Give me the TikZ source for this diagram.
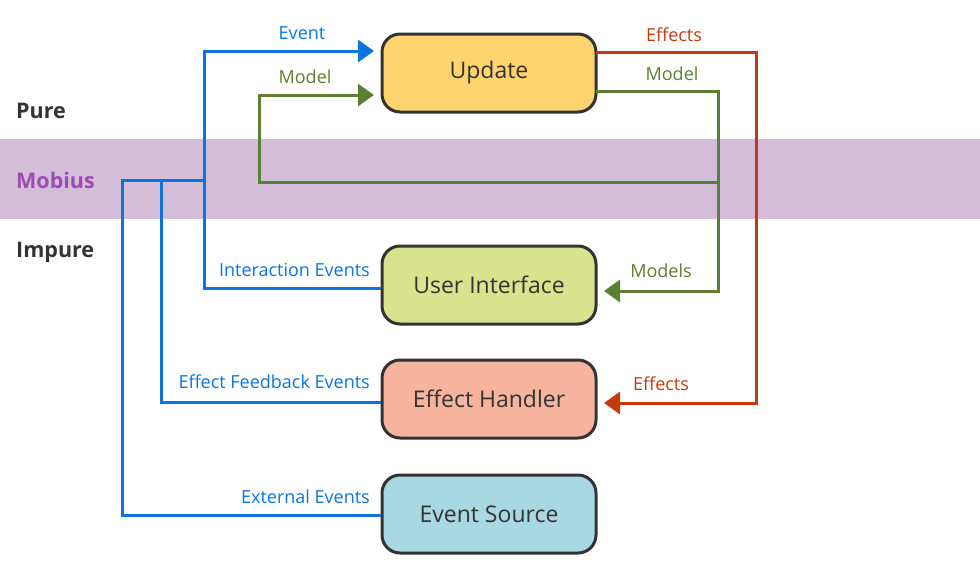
\documentclass[tikz,border=0pt]{standalone}
\usepackage{fontspec}
\setmainfont{Open Sans}
\usetikzlibrary{arrows.meta}
\definecolor{bandc}{HTML}{D3BDD9}
\definecolor{blu}{HTML}{0A74E0}
\definecolor{grn}{HTML}{5A8031}
\definecolor{rd}{HTML}{C43A0E}
\definecolor{mob}{HTML}{9B4DB0}
\definecolor{dark}{HTML}{333333}
\definecolor{updc}{HTML}{FFD36E}
\definecolor{uic}{HTML}{D8E38E}
\definecolor{ehc}{HTML}{F6B39D}
\definecolor{esc}{HTML}{A8D8E2}
\tikzset{
  box/.style={draw=dark,line width=3pt,rounded corners=18pt,minimum width=214pt,minimum height=78pt,inner sep=0pt,font=\fontsize{23}{26}\selectfont\color{dark}},
  conn/.style={line width=3pt},
  arr/.style={conn,-{Triangle[length=16pt,width=22pt]},shorten >=8pt},
  lbl/.style={font=\fontsize{18}{21}\selectfont,inner sep=0pt},
  side/.style={font=\fontsize{21.5}{25}\selectfont\bfseries,anchor=west,inner sep=0pt}
}
\begin{document}
\begin{tikzpicture}[x=1pt,y=-1pt]
\useasboundingbox (0,0) rectangle (980,571);
\fill[bandc] (0,139) rectangle (980,219);
\node[side,text=dark] (pure) at (16,111) {Pure};
\node[side,text=mob] (mobius) at (16,180) {Mobius};
\node[side,text=dark] (impure) at (16,252) {Impure};

\node[box,fill=updc] (upd) at (489,73) {Update};
\node[box,fill=uic] (ui) at (489,285) {User Interface};
\node[box,fill=ehc] (eh) at (489,399) {Effect Handler};
\node[box,fill=esc] (es) at (489,514) {Event Source};

\coordinate (j1) at (122,180);
\coordinate (j2) at (161,180);
\coordinate (j3) at (204,180);
\coordinate (evtop) at (204,51);
\coordinate (evend) at (382,51);
\coordinate (gm1) at (259,182);
\coordinate (gmtop) at (259,95);
\coordinate (gmend) at (382,95);
\coordinate (g2) at (718,182);
\coordinate (gout) at (596,91);
\coordinate (gcorner) at (718,91);
\coordinate (guiend) at (596,291);
\coordinate (rout) at (596,52);
\coordinate (rcorner) at (756,52);
\coordinate (rehend) at (596,403);

% blue
\draw[conn,blu] (es.west |- 0,515) -| (j1) -- (j3);
\draw[conn,blu] (eh.west |- 0,402) -| (j2);
\draw[conn,blu] (ui.west |- 0,288) -| (j3);
\draw[arr,blu] (j3) -- (evtop) -- (evend);
% green
\draw[arr,grn] (g2) -- (gm1) -- (gmtop) -- (gmend);
\draw[arr,grn] (gout) -- (gcorner) |- (guiend);
% red
\draw[arr,rd] (rout) -- (rcorner) |- (rehend);

\node[lbl,text=blu] (l1) at (302,33) {Event};
\node[lbl,text=grn] (l2) at (305,77) {Model};
\node[lbl,text=rd] (l3) at (674,35) {Effects};
\node[lbl,text=grn] (l4) at (672,74) {Model};
\node[lbl,text=blu,anchor=east] (l5) at (370,270) {Interaction Events};
\node[lbl,text=grn] (l6) at (661,271) {Models};
\node[lbl,text=blu,anchor=east] (l7) at (370,382) {Effect Feedback Events};
\node[lbl,text=rd] (l8) at (661,384) {Effects};
\node[lbl,text=blu,anchor=east] (l9) at (370,497) {External Events};
\end{tikzpicture}
\end{document}
